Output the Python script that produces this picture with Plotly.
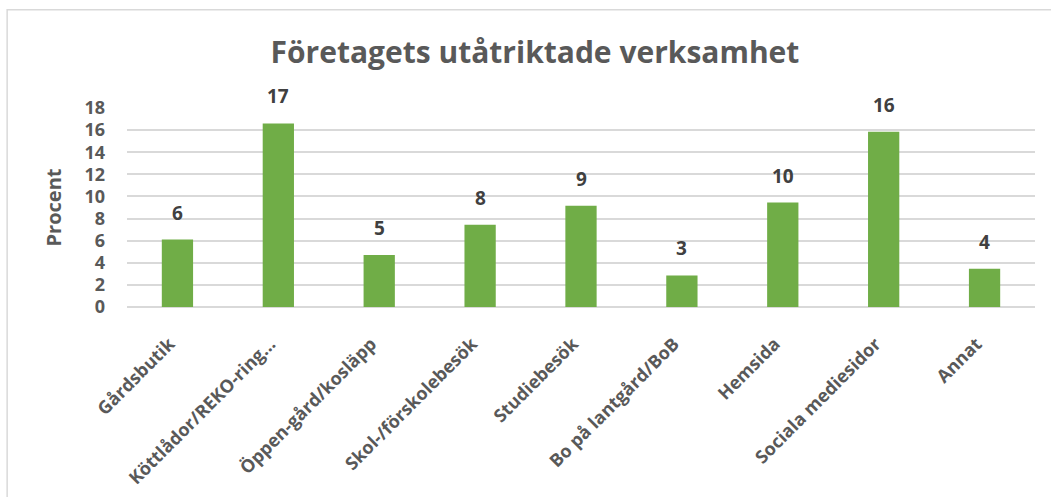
import plotly.graph_objects as go

kategorier = ["Gårdsbutik", "Köttlådor/REKO-ring…", "Öppen-gård/kosläpp", "Skol-/förskolebesök",
              "Studiebesök", "Bo på lantgård/BoB", "Hemsida", "Sociala mediesidor", "Annat"]
procent = [6.1, 16.6, 4.7, 7.45, 9.15, 2.85, 9.45, 15.85, 3.45]
etiketter = ["6", "17", "5", "8", "9", "3", "10", "16", "4"]
y_ticks = [0, 2, 4, 6, 8, 10, 12, 14, 16, 18]

FONT = "Open Sans"
GRAY = "#595959"

fig = go.Figure(go.Bar(x=kategorier, y=procent, marker_color="#70AD47",
                       marker_line_width=0, hoverinfo="x+y"))

for k, v, t in zip(kategorier, procent, etiketter):
    fig.add_annotation(x=k, y=v, text="<b>%s</b>" % t, showarrow=False,
                       yanchor="bottom", yshift=12,
                       font=dict(family=FONT, size=19, color="#404040"))

fig.update_layout(
    width=1051, height=497,
    margin=dict(l=127, r=16, t=108, b=190),
    paper_bgcolor="white", plot_bgcolor="white",
    bargap=0.69,
    showlegend=False,
    title=dict(text="<b>Företagets utåtriktade verksamhet</b>", x=0.509, xanchor="center",
               y=0.895, yanchor="middle",
               font=dict(family=FONT, size=30, color=GRAY)),
    font=dict(family=FONT, color=GRAY),
    shapes=[dict(type="rect", xref="paper", yref="paper", x0=-0.132, x1=1.2, y0=-1.5, y1=1.494,
                 line=dict(color="#d9d9d9", width=1.5), fillcolor="rgba(0,0,0,0)", layer="below")],
)
fig.update_yaxes(range=[0, 18], tickvals=y_ticks, ticktext=["<b>%d</b>" % v for v in y_ticks],
                 tickfont=dict(family=FONT, size=18, color=GRAY),
                 showgrid=True, gridcolor="#d9d9d9", gridwidth=1.5,
                 zeroline=True, zerolinecolor="#d9d9d9", zerolinewidth=1.5,
                 ticklabelstandoff=21, automargin=False,
                 title=dict(text="<b>Procent</b>", standoff=17,
                            font=dict(family=FONT, size=20, color=GRAY)))
fig.update_xaxes(tickangle=-45, tickfont=dict(family=FONT, size=18, color=GRAY),
                 ticktext=["<b>%s</b>" % k for k in kategorier], tickvals=kategorier,
                 ticklabelstandoff=22, ticklabelshift=-8,
                 showline=False, automargin=False)

fig.write_html("out.html", config={"displayModeBar": False},
               post_script="document.body.style.margin='0';")
